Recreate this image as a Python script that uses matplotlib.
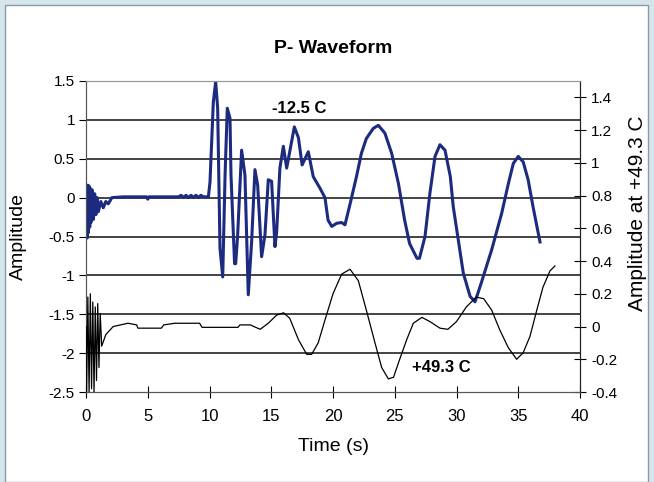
import matplotlib
matplotlib.use("Agg")
import matplotlib.pyplot as plt
from matplotlib.patches import Rectangle

plt.rcParams['font.family'] = ['Liberation Sans', 'DejaVu Sans']

# -12.5 C trace (left axis)
blue_t = [0.0, 0.05, 0.1, 0.15, 0.2, 0.25, 0.3, 0.35, 0.4, 0.5, 0.6, 0.7, 0.8, 0.9,
          1.0, 1.2, 1.4, 1.6, 1.8, 2.1, 3.0, 4.9, 5.0, 5.1, 7.5, 7.7, 7.9, 8.1, 8.3,
          8.5, 8.7, 8.9, 9.1, 9.3, 9.5, 9.91,
          10.04, 10.31, 10.5, 10.66, 10.85, 11.07, 11.26, 11.44, 11.66, 11.74, 12.03,
          12.12, 12.28, 12.6, 12.87, 13.14, 13.41, 13.68, 13.9, 14.22, 14.49, 14.76,
          15.03, 15.3, 15.44, 15.7, 15.98, 16.25, 16.87, 17.2, 17.5, 18.0, 18.4, 18.95,
          19.35, 19.6, 19.9, 20.3, 20.7, 20.97, 21.4, 21.9, 22.3, 22.7, 23.26, 23.67,
          24.2, 24.75, 25.3, 25.8, 26.2, 26.8, 27.0, 27.45, 27.85, 28.26, 28.66, 29.07,
          29.5, 29.74, 30.15, 30.55, 31.1, 31.5, 32.0, 32.85, 33.66, 34.2, 34.6, 35.0,
          35.4, 35.8, 36.2, 36.76]
blue_amp = [0.0, 0.15, -0.52, 0.16, -0.45, 0.15, -0.38, 0.12, -0.32, 0.1, -0.28, 0.05,
            -0.22, 0.0, -0.18, -0.05, -0.13, -0.05, -0.08, 0.0, 0.01, 0.01, -0.02, 0.01,
            0.01, 0.03, 0.0, 0.03, 0.0, 0.03, 0.0, 0.03, 0.0, 0.03, 0.01, 0.01,
            0.2, 1.23, 1.49, 1.15, -0.65, -1.02, 0.29, 1.15, 1.02, 0.29, -0.85,
            -0.85, -0.48, 0.61, 0.29, -1.25, -0.57, 0.36, 0.16, -0.76, -0.48, 0.23,
            0.21, -0.63, -0.44, 0.38, 0.66, 0.38, 0.91, 0.77, 0.42, 0.59, 0.27, 0.12,
            0.0, -0.29, -0.37, -0.33, -0.32, -0.35, -0.07, 0.27, 0.57, 0.76, 0.89, 0.93,
            0.83, 0.57, 0.18, -0.29, -0.59, -0.78, -0.78, -0.5, 0.06, 0.53, 0.68, 0.61,
            0.27, -0.12, -0.55, -0.97, -1.27, -1.34, -1.1, -0.67, -0.2, 0.18, 0.44, 0.53,
            0.46, 0.23, -0.12, -0.57]

# +49.3 C trace (right axis)
black_t = [0.0, 0.05, 0.15, 0.25, 0.35, 0.45, 0.55, 0.65, 0.75, 0.85, 0.95, 1.05,
           1.15, 1.27, 1.6, 2.2, 2.8, 3.4, 4.1, 4.2, 6.1, 6.3, 7.2, 9.2, 9.4, 12.3,
           12.47, 13.3, 14.1, 14.76, 15.44, 16.0, 16.5, 17.2, 17.87, 18.27, 18.8, 19.35,
           20.0, 20.7, 21.38, 22.05, 22.7, 23.4, 23.94, 24.48, 24.9, 25.4, 25.97, 26.5,
           27.2, 27.85, 28.66, 29.3, 30.0, 30.8, 31.6, 32.2, 32.85, 33.5, 34.2, 34.87,
           35.4, 35.95, 36.5, 37.0, 37.57, 37.97]
black_amp = [0.0, -0.4, 0.18, -0.4, 0.2, -0.38, 0.15, -0.4, 0.12, -0.33, 0.14, -0.25,
             0.08, -0.12, -0.05, 0.0, 0.01, 0.02, 0.01, -0.01, -0.01, 0.01, 0.02, 0.02,
             -0.005, -0.005,
             0.01, 0.01, -0.017, 0.02, 0.07, 0.084, 0.05, -0.08, -0.17, -0.17, -0.1, 0.04,
             0.2, 0.32, 0.35, 0.28, 0.1, -0.1, -0.25, -0.32, -0.31, -0.2, -0.08, 0.02,
             0.056, 0.03, -0.01, -0.017, 0.03, 0.12, 0.18, 0.17, 0.1, -0.02, -0.13, -0.2,
             -0.16, -0.06, 0.1, 0.24, 0.34, 0.37]

left_ticks = [-2.5, -2, -1.5, -1, -0.5, 0, 0.5, 1, 1.5]
left_labels = ['-2.5', '-2', '-1.5', '-1', '-0.5', '0', '0.5', '1', '1.5']
right_ticks = [-0.4, -0.2, 0, 0.2, 0.4, 0.6, 0.8, 1, 1.2, 1.4]
right_labels = ['-0.4', '-0.2', '0', '0.2', '0.4', '0.6', '0.8', '1', '1.2', '1.4']
x_ticks = [0, 5, 10, 15, 20, 25, 30, 35, 40]

fig = plt.figure(figsize=(6.54, 4.82), dpi=100, facecolor='#d6e4eb')
fig.patches.append(Rectangle((5 / 654, 0), 643 / 654, 477 / 482, transform=fig.transFigure,
                             facecolor='white', edgecolor='#8a9aa3', linewidth=1, zorder=-5))

ax = fig.add_axes([86 / 654, 90 / 482, 494 / 654, 311 / 482])
ax.set_facecolor('none')
ax2 = ax.twinx()

ax.set_xlim(0, 40)
ax.set_ylim(-2.5, 1.5)
ax2.set_ylim(-0.4, 1.5)

for y in left_ticks[1:-1]:
    ax.axhline(y, color='#111111', linewidth=1.1, zorder=1)

ax.plot(blue_t, blue_amp, color='#1c2a80', linewidth=2.2, zorder=3)
ax2.plot(black_t, black_amp, color='black', linewidth=0.9, zorder=3)

ax.set_xticks(x_ticks)
ax.set_yticks(left_ticks)
ax.set_yticklabels(left_labels)
ax2.set_yticks(right_ticks)
ax2.set_yticklabels(right_labels)

ax.tick_params(axis='y', direction='out', length=5, labelsize=11, pad=3)
ax.tick_params(axis='x', direction='inout', length=8, labelsize=12, pad=8)
ax2.tick_params(axis='y', direction='inout', length=8, labelsize=11, pad=4)

for a in (ax, ax2):
    a.spines['top'].set_color('#999999')
    a.spines['bottom'].set_color('#555555')
    a.spines['left'].set_color('#555555')
    a.spines['right'].set_color('#222222')

ax.set_xlabel('Time (s)', fontsize=14, labelpad=10)
ax.set_ylabel('Amplitude', fontsize=14, labelpad=16)
ax2.set_ylabel('Amplitude at +49.3 C', fontsize=15)
ax2.yaxis.set_label_coords(1.098, 0.575)
ax.set_title('P- Waveform', fontsize=14, fontweight='bold', pad=20)

ax.text(17.3, 1.15, '-12.5 C', fontsize=12, fontweight='bold', ha='center', va='center')
ax.text(28.8, -2.18, '+49.3 C', fontsize=12, fontweight='bold', ha='center', va='center')

fig.savefig('out.png', dpi=100, facecolor=fig.get_facecolor())
